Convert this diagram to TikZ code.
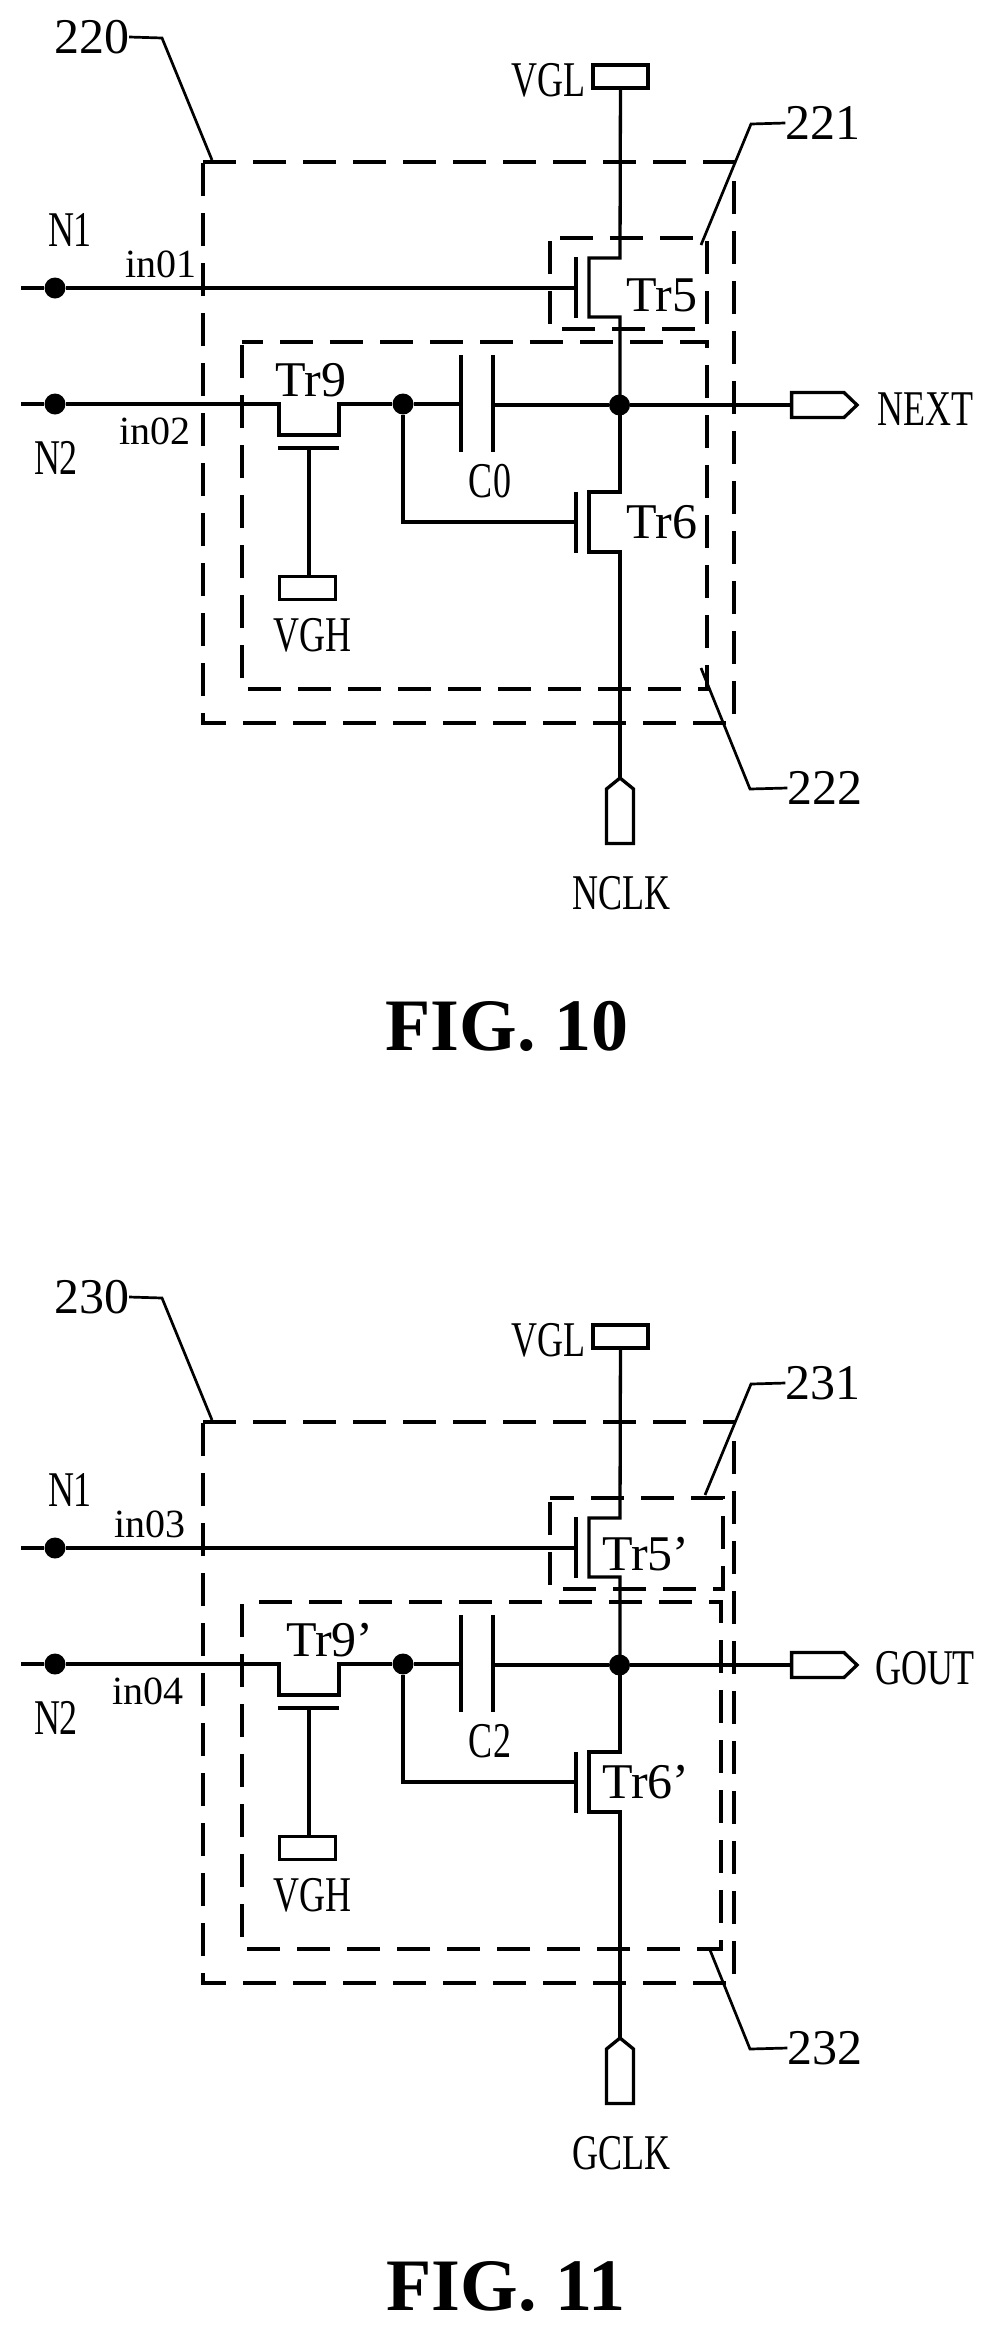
\documentclass[tikz,border=0pt]{standalone}
\usepackage{fontspec}
\usepackage{tikz}
\setmainfont{Liberation Serif}
\newfontfamily\capfont[FakeStretch=0.72]{Liberation Serif}

\tikzset{
	wire/.style={line width=3.3pt},
	leader/.style={line width=2.7pt},
	region/.style={line width=3.3pt, dash pattern=on 33pt off 17pt},
	pinbox/.style={draw, line width=3.3pt, minimum width=55pt, minimum height=23pt, inner sep=0pt},
	dot/.style={circle, fill=black, minimum size=21pt, inner sep=0pt},
	numlabel/.style={inner sep=0pt, font=\fontsize{50}{50}\selectfont},
	caplabel/.style={inner sep=0pt, font=\capfont\fontsize{50}{50}\selectfont},
	inlabel/.style={inner sep=0pt, font=\fontsize{40}{40}\selectfont},
	figlabel/.style={inner sep=0pt, font=\bfseries\fontsize{74}{74}\selectfont}
}

\begin{document}
\begin{tikzpicture}[x=1pt, y=-1pt]
	\useasboundingbox (0, 0) rectangle (994, 2332);

	% FIG. 10
	\draw[region] (203, 162) -- (734, 162) -- (734, 723) -- (203, 723) -- cycle;
	\draw[region, dash phase=40pt] (550, 238) -- (707, 238) -- (707, 329) -- (550, 329) -- cycle;
	\draw[region, dash phase=12pt] (242, 342) -- (707, 342) -- (707, 689) -- (242, 689) -- cycle;

	\node[numlabel] (L220) at (91.5, 37) {220};
	\node[numlabel] (L221) at (823, 123) {221};
	\node[numlabel] (L222) at (825, 788) {222};
	\node[caplabel] (N1a) at (70, 230) {N1};
	\node[caplabel] (N2a) at (56, 458) {N2};
	\node[inlabel] (in01) at (161, 264) {in01};
	\node[inlabel] (in02) at (155, 431) {in02};
	\node[numlabel] (Tr5) at (662, 295) {Tr5};
	\node[numlabel] (Tr6) at (662, 522) {Tr6};
	\node[numlabel] (Tr9) at (311, 380) {Tr9};
	\node[caplabel] (C0) at (490, 481) {C0};
	\node[caplabel] (VGLa) at (548.5, 80) {VGL};
	\node[caplabel] (VGHa) at (312.5, 635) {VGH};
	\node[caplabel] (NEXT) at (925, 409) {NEXT};
	\node[caplabel] (NCLK) at (621.5, 893) {NCLK};
	\node[figlabel] (FIGa) at (507, 1026) {FIG. 10};

	\node[pinbox] (PVGLa) at (620.5, 76.5) {};
	\node[pinbox, minimum width=56pt] (PVGHa) at (307.5, 588) {};
	\node[dot] (D1a) at (55, 288) {};
	\node[dot] (D2a) at (55, 404) {};
	\node[dot] (D3a) at (403, 404) {};
	\node[dot] (D4a) at (619.5, 405) {};

	\coordinate (W1a) at (21, 288);
	\coordinate (W2a) at (21, 404);
	\coordinate (G5a) at (576, 288);
	\coordinate (G6a) at (576, 522);
	\coordinate (G9a) at (309, 448);
	\coordinate (C1a) at (461, 404);
	\coordinate (C2a) at (493, 405);
	\coordinate (Oa) at (791.6, 405);
	\coordinate (Ta) at (620, 778);

	\draw[wire] (W1a) -- (D1a) -- (G5a);
	\draw[wire] (W2a) -- (D2a) -- (279, 404) -- (279, 435) -- (339, 435) -- (339, 404) -- (D3a) -- (C1a);
	\draw[wire] (C2a) -- (D4a) -- (Oa);
	\draw[wire] (D3a) |- (G6a);
	\draw[wire] (G9a) -- (G9a |- PVGHa.north);
	\draw[wire] (PVGLa) -- (620, 258) -- (589, 258) -- (589, 317) -- (620, 317) -- (620, 405);
	\draw[wire] (620, 405) -- (620, 492) -- (589, 492) -- (589, 552) -- (620, 552) -- (Ta);
	\draw[wire] (576, 257) -- (576, 318);
	\draw[wire] (576, 492) -- (576, 553);
	\draw[wire] (278, 448) -- (339, 448);
	\draw[wire] (461, 355) -- (461, 452);
	\draw[wire] (493, 355) -- (493, 452);
	\draw[wire] (791.6, 392.5) -- (844, 392.5) -- (857, 405) -- (844, 417.5) -- (791.6, 417.5) -- cycle;
	\draw[wire] (Ta) -- (633.5, 789) -- (633.5, 843.5) -- (606.5, 843.5) -- (606.5, 789) -- cycle;

	\draw[leader] (L220.east) -- (162, 38) -- (212, 160);
	\draw[leader] (L221.west) -- (751, 124) -- (701, 245);
	\draw[leader] (L222.west) -- (750, 789) -- (701, 668);

	% FIG. 11
	\begin{scope}[yshift=-1260pt]
		\draw[region] (203, 162) -- (734, 162) -- (734, 723) -- (203, 723) -- cycle;
		\draw[region, dash phase=9pt] (550, 238) -- (723, 238) -- (723, 329) -- (550, 329) -- cycle;
		\draw[region, dash phase=33pt] (242, 342) -- (721, 342) -- (721, 689) -- (242, 689) -- cycle;

		\node[numlabel] (L230) at (91.5, 37) {230};
		\node[numlabel] (L231) at (823, 123) {231};
		\node[numlabel] (L232) at (825, 788) {232};
		\node[caplabel] (N1b) at (70, 230) {N1};
		\node[caplabel] (N2b) at (56, 458) {N2};
		\node[inlabel] (in03) at (150, 264) {in03};
		\node[inlabel] (in04) at (148, 431) {in04};
		\node[numlabel] (Tr5p) at (646, 294) {Tr5’};
		\node[numlabel] (Tr6p) at (646, 522) {Tr6’};
		\node[numlabel] (Tr9p) at (330, 380) {Tr9’};
		\node[caplabel] (C2) at (490, 481) {C2};
		\node[caplabel] (VGLb) at (548.5, 80) {VGL};
		\node[caplabel] (VGHb) at (312.5, 635) {VGH};
		\node[caplabel] (GOUT) at (925, 408) {GOUT};
		\node[caplabel] (GCLK) at (621.5, 893) {GCLK};
		\node[figlabel] (FIGb) at (506, 1026) {FIG. 11};

		\node[pinbox] (PVGLb) at (620.5, 76.5) {};
		\node[pinbox, minimum width=56pt] (PVGHb) at (307.5, 588) {};
		\node[dot] (D1b) at (55, 288) {};
		\node[dot] (D2b) at (55, 404) {};
		\node[dot] (D3b) at (403, 404) {};
		\node[dot] (D4b) at (619.5, 405) {};

		\coordinate (W1b) at (21, 288);
		\coordinate (W2b) at (21, 404);
		\coordinate (G5b) at (576, 288);
		\coordinate (G6b) at (576, 522);
		\coordinate (G9b) at (309, 448);
		\coordinate (C1b) at (461, 404);
		\coordinate (C2b) at (493, 405);
		\coordinate (Ob) at (791.6, 405);
		\coordinate (Tb) at (620, 778);

		\draw[wire] (W1b) -- (D1b) -- (G5b);
		\draw[wire] (W2b) -- (D2b) -- (279, 404) -- (279, 435) -- (339, 435) -- (339, 404) -- (D3b) -- (C1b);
		\draw[wire] (C2b) -- (D4b) -- (Ob);
		\draw[wire] (D3b) |- (G6b);
		\draw[wire] (G9b) -- (G9b |- PVGHb.north);
		\draw[wire] (PVGLb) -- (620, 258) -- (589, 258) -- (589, 317) -- (620, 317) -- (620, 405);
		\draw[wire] (620, 405) -- (620, 492) -- (589, 492) -- (589, 552) -- (620, 552) -- (Tb);
		\draw[wire] (576, 257) -- (576, 318);
		\draw[wire] (576, 492) -- (576, 553);
		\draw[wire] (278, 448) -- (339, 448);
		\draw[wire] (461, 355) -- (461, 452);
		\draw[wire] (493, 355) -- (493, 452);
		\draw[wire] (791.6, 392.5) -- (844, 392.5) -- (857, 405) -- (844, 417.5) -- (791.6, 417.5) -- cycle;
		\draw[wire] (Tb) -- (633.5, 789) -- (633.5, 843.5) -- (606.5, 843.5) -- (606.5, 789) -- cycle;

		\draw[leader] (L230.east) -- (162, 38) -- (212, 160);
		\draw[leader] (L231.west) -- (751, 124) -- (705, 235);
		\draw[leader] (L232.west) -- (750, 789) -- (710, 690);
	\end{scope}
\end{tikzpicture}
\end{document}
